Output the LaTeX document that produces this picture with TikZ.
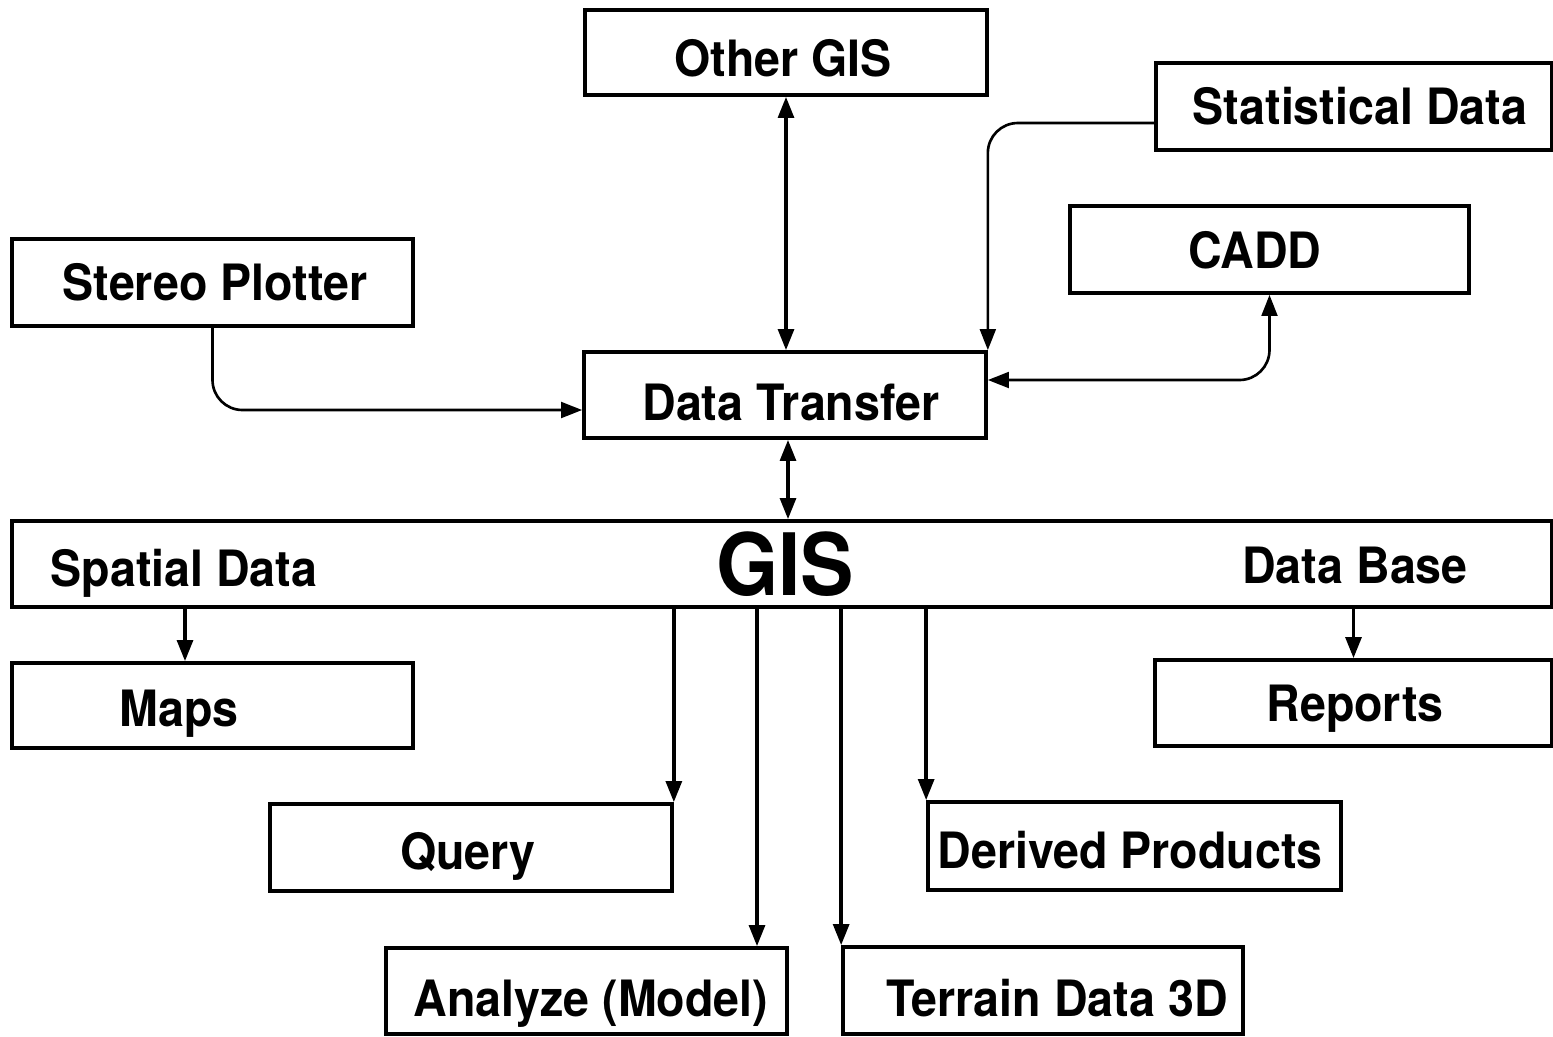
\documentclass[tikz,border=0pt]{standalone}
\usepackage{fontspec}
\setmainfont{TeX Gyre Heros}[FakeStretch=0.93]
\usetikzlibrary{arrows.meta,calc}

\begin{document}
\begin{tikzpicture}[x=0.02cm,y=-0.02cm,
  >={Triangle[width=9pt,length=12pt]},
  box/.style 2 args={draw, line width=2.1pt, inner sep=0pt,
    minimum width={#1*0.02cm}, minimum height={#2*0.02cm}},
  lbl/.style={font=\fontsize{28.5}{30}\selectfont\bfseries, anchor=base, inner sep=0pt},
  biglbl/.style={font=\fontsize{49}{51}\selectfont\bfseries, anchor=base, inner sep=0pt},
  link/.style={line width=2pt},
  thinlink/.style={line width=1.5pt, rounded corners=0.6cm}]

\fill[white] (0,0) rectangle (1553,1036);
\useasboundingbox (0,0) rectangle (1553,1036);

% boxes
\node[box={402}{85}] (other)   at (786,52.5)   {};
\node[box={396}{87}] (stat)    at (1354,106.5) {};
\node[box={399}{87}] (cadd)    at (1269.5,249.5) {};
\node[box={401}{87}] (stereo)  at (212.5,282.5) {};
\node[box={402}{86}] (dt)      at (785,395)    {};
\node[box={1540}{86}] (gis)    at (782,564)    {};
\node[box={401}{85}] (maps)    at (212.5,705.5) {};
\node[box={397}{86}] (reports) at (1353.5,703) {};
\node[box={402}{87}] (query)   at (471,847.5)  {};
\node[box={413}{88}] (derived) at (1134.5,846) {};
\node[box={401}{86}] (analyze) at (586.5,991)  {};
\node[box={400}{87}] (terrain) at (1043,990.5) {};

% labels
\node[lbl] (otherT)   at (783,76)    {Other GIS};
\node[lbl] (statT)    at (1360,124)  {Statistical Data};
\node[lbl] (caddT)    at (1255,268)  {CADD};
\node[lbl] (stereoT)  at (215,300)   {Stereo Plotter};
\node[lbl] (dtT)      at (791,420)   {Data Transfer};
\node[lbl] (spatialT) at (184,586)   {Spatial Data};
\node[biglbl] (gisT)  at (785,595)   {GIS};
\node[lbl] (dbT)      at (1355,583)  {Data Base};
\node[lbl] (mapsT)    at (179,726)   {Maps};
\node[lbl] (reportsT) at (1355,721)  {Reports};
\node[lbl] (queryT)   at (468,869)   {Query};
\node[lbl] (derivedT) at (1130,868)  {Derived Products};
\node[lbl] (analyzeT) at (591,1016)  {Analyze (Model)};
\node[lbl] (terrainT) at (1057,1016) {Terrain Data 3D};

% branch positions on the GIS bar
\coordinate (mapsX) at (185,0);
\coordinate (analyzeX) at (757,0);

% connectors into and out of Data Transfer
\draw[link,<->] (other.south) -- (other.south |- dt.north);
\draw[thinlink,->] ($(stat.west)+(0,16.5)$) -| (dt.north east);
\draw[thinlink,<->] ($(dt.east)+(0,-15)$) -| (cadd.south);
\draw[thinlink,->] (stereo.south) |- ($(dt.west)+(0,15)$);
\draw[link,<->] ($(dt.south)+(3,0)$) -- ($(dt.south |- gis.north)+(3,0)$);

% outputs of the GIS
\draw[link,->] (gis.south -| mapsX) -- (maps.north -| mapsX);
\draw[link,->] (gis.south -| reports.north) -- (reports.north);
\draw[link,->] (gis.south -| query.north east) -- (query.north east);
\draw[link,->] (gis.south -| analyzeX) -- (analyze.north -| analyzeX);
\draw[link,->] (gis.south -| terrain.north west) -- (terrain.north west);
\draw[link,->] (gis.south -| derived.north west) -- (derived.north west);

\end{tikzpicture}
\end{document}
